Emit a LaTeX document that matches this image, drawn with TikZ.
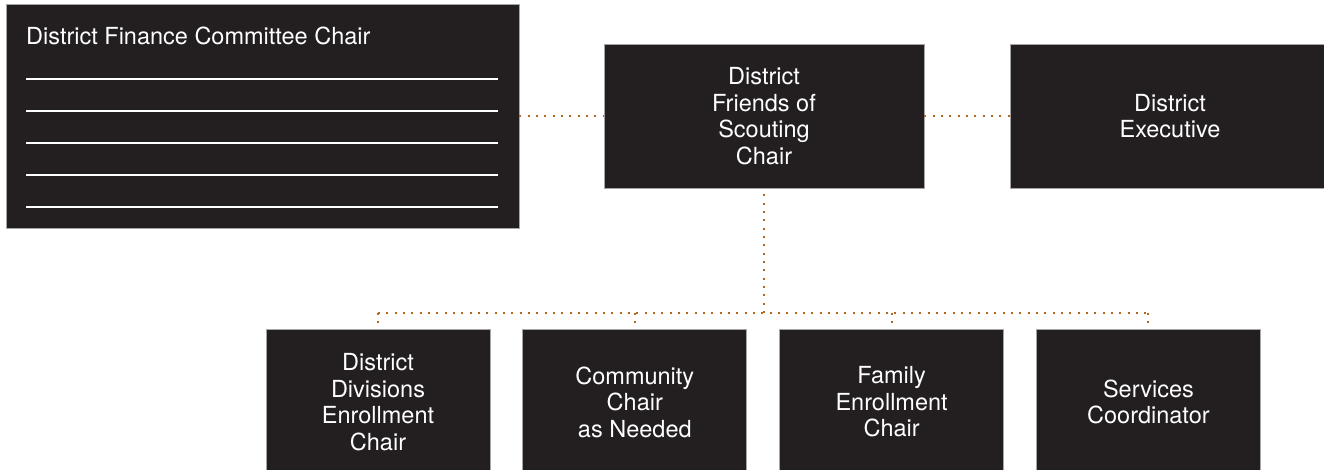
\documentclass[tikz,border=0pt]{standalone}
\usepackage{fontspec}
\setmainfont{TeX Gyre Heros}
\usetikzlibrary{positioning}
\definecolor{boxColor}{RGB}{35, 31, 32}
\definecolor{linkColor}{RGB}{181, 104, 28}

\begin{document}
\begin{tikzpicture}[
  x=1pt, y=-1pt,
  every node/.style={font=\fontsize{23.5}{26.5}\selectfont, text=white},
  box/.style={fill=boxColor, draw=gray!70, line width=0.8pt, minimum width=224pt,
    minimum height=146pt, inner sep=0pt, align=center},
  topbox/.style={box, minimum width=320pt, minimum height=144pt},
  link/.style={draw=linkColor, line width=2pt, dash pattern=on 2pt off 6.33pt}
]
\clip (0,0) rectangle (1324,470);
\fill[white] (0,0) rectangle (1324,470);
\node[box, minimum width=513pt, minimum height=224pt] (fin) at (262.5,116) {};
\node[anchor=base west, inner sep=0pt] (finTitle) at (26,45) {District Finance Committee Chair};
\foreach \y in {79,111,143,175,207}
  \draw[white, line width=1.2pt] (26,\y) -- (498,\y);
\node[topbox] (fos) at (764,116) {District\\Friends of\\Scouting\\Chair};
\node[topbox] (exec) at (1170,116) {District\\Executive};
\node[box] (ddc) at (378,402) {District\\Divisions\\Enrollment\\Chair};
\node[box, right=32pt of ddc] (comm) {Community\\Chair\\as Needed};
\node[box, right=32pt of comm] (fam) {Family\\Enrollment\\Chair};
\node[box, right=32pt of fam] (svc) {Services\\Coordinator};
\coordinate (busLevel) at (0,313);
\draw[link] (fin.east) -- (fos.west);
\draw[link] (fos.east) -- (exec.west);
\draw[link, shorten <=6pt] (fos.south) -- (fos.south |- busLevel);
\draw[link] (ddc.north |- busLevel) -- (svc.north |- busLevel);
\foreach \n in {ddc, comm, fam, svc}
  \draw[link, shorten >=5pt] (\n.north |- busLevel) -- (\n.north);
\end{tikzpicture}
\end{document}
